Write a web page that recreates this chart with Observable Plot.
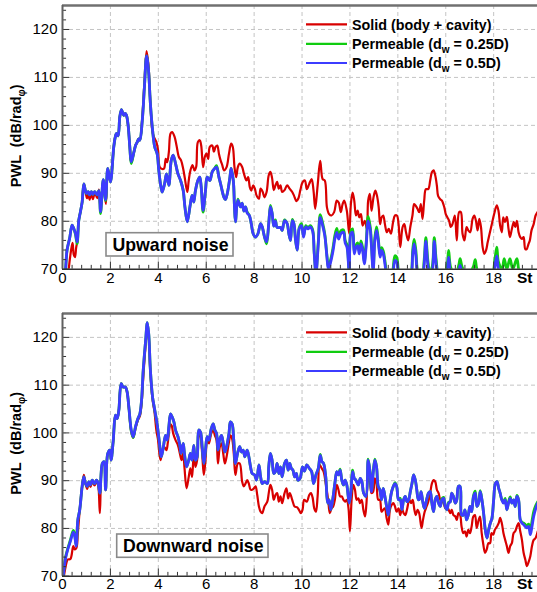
<!DOCTYPE html>
<html><head><meta charset="utf-8">
<script src="https://cdn.jsdelivr.net/npm/d3@7"></script>
<script src="https://cdn.jsdelivr.net/npm/@observablehq/plot@0.6"></script>
<style>
body{margin:0;background:#fff;font-family:"Liberation Sans",Arial,sans-serif;}
#chart svg{display:block;}
</style></head><body><div id="chart"></div>
<script>
// ---- labels / categories ----
const seriesLabels = [
  ["Solid (body + cavity)", null, null],
  ["Permeable (d", "w", " = 0.25D)"],
  ["Permeable (d", "w", " = 0.5D)"]
];
const seriesColors = ["#d80000", "#10cc10", "#3c3cff"];
const panelLabels = ["Upward noise", "Downward noise"];
const xTicks = [0, 2, 4, 6, 8, 10, 12, 14, 16, 18];
const yTicks = [70, 80, 90, 100, 110, 120];

// ---- Upward noise: [St, PWL] ----
const upSolid = [[0,60],[0.2,66],[0.26,70],[0.36,74],[0.42,75.5],[0.47,73],[0.52,72.5],[0.57,74.5],[0.62,76],[0.68,80.2],[0.75,82],[0.82,84],[0.89,87.8],[0.95,86.5],[1.02,84.8],[1.07,86],[1.13,84.5],[1.2,86],[1.27,84.6],[1.35,86],[1.45,84.8],[1.52,86.6],[1.59,82.5],[1.7,88.5],[1.81,83.6],[1.89,91],[2.0,88.2],[2.14,95.5],[2.2,97.5],[2.25,98.3],[2.32,97.8],[2.39,101.7],[2.46,103.3],[2.52,102.5],[2.56,102.1],[2.62,102.5],[2.67,102.1],[2.74,100],[2.81,95.5],[2.87,92.2],[2.98,94.4],[3.05,95.8],[3.12,96.5],[3.18,97.2],[3.23,96.9],[3.33,101.5],[3.42,108.8],[3.51,115.5],[3.59,112.5],[3.67,104.5],[3.76,98.5],[3.85,97.2],[3.92,96.5],[3.99,94.8],[4.06,91.3],[4.16,90.9],[4.24,91],[4.31,93],[4.37,92.3],[4.44,94.4],[4.51,98.3],[4.58,98.6],[4.68,97.6],[4.76,95.8],[4.86,93.4],[4.95,92.7],[5.04,90.9],[5.11,88.9],[5.21,86.1],[5.27,88.5],[5.34,90.6],[5.43,91.7],[5.51,90.6],[5.58,91.3],[5.65,96.5],[5.73,96.9],[5.79,95.8],[5.87,91.3],[5.94,93.4],[6.01,94.1],[6.08,93],[6.15,95.5],[6.25,95.8],[6.32,94.5],[6.39,95.5],[6.46,95.8],[6.53,94.1],[6.6,92.7],[6.67,91.7],[6.74,90.6],[6.85,91.3],[6.95,94.1],[7.04,96.2],[7.11,95.5],[7.18,91.3],[7.25,89.2],[7.32,91.3],[7.4,92],[7.5,91.3],[7.57,90],[7.68,88.5],[7.75,89.2],[7.82,87.1],[7.88,86.4],[7.96,87.5],[8.03,86.8],[8.1,85.4],[8.2,84.7],[8.27,86.8],[8.36,86.1],[8.43,85],[8.52,86.1],[8.61,89.6],[8.68,90.3],[8.75,89],[8.82,86.5],[8.89,87.5],[8.96,88.2],[9.03,86.8],[9.1,87.5],[9.17,86.1],[9.27,86.5],[9.38,87.5],[9.48,86.8],[9.59,86.1],[9.66,85.4],[9.77,84.2],[9.85,84.8],[9.93,86.5],[10.02,88.1],[10.12,88.5],[10.2,86.7],[10.3,87.8],[10.4,88.8],[10.48,86.4],[10.55,82.6],[10.65,87.4],[10.76,92.6],[10.86,88.8],[10.95,88.5],[11.04,82.9],[11.13,81.5],[11.23,81.2],[11.34,81.9],[11.45,84.3],[11.53,83.9],[11.62,81.9],[11.69,83.5],[11.76,84.3],[11.87,82.2],[11.97,77.4],[12.04,83.6],[12.11,86],[12.18,84.3],[12.25,81.2],[12.32,82.2],[12.39,80.8],[12.46,81.5],[12.53,79.1],[12.62,80.1],[12.71,78.4],[12.76,84.3],[12.83,85.7],[12.9,82.2],[12.98,84.9],[13.06,86.4],[13.13,85.3],[13.2,82.9],[13.26,79.4],[13.32,80.8],[13.39,81.2],[13.46,79.4],[13.54,77.7],[13.62,78.4],[13.71,77.4],[13.8,79.8],[13.88,81.2],[13.96,81.2],[14.03,79.4],[14.1,74.6],[14.2,78.8],[14.27,79.4],[14.34,77.7],[14.43,76],[14.52,78.8],[14.61,81.2],[14.68,83.6],[14.75,83.2],[14.82,82.6],[14.89,81.9],[14.96,83.6],[15.03,80.5],[15.1,84.3],[15.17,86.7],[15.27,86.7],[15.35,88.5],[15.42,90.2],[15.49,90.6],[15.56,89.6],[15.63,87.4],[15.68,85.3],[15.77,84.6],[15.84,84.3],[15.94,82.9],[16.0,81.5],[16.07,80.8],[16.14,80.1],[16.21,78.8],[16.28,79.4],[16.38,81.2],[16.46,76],[16.56,81.9],[16.63,81.9],[16.7,77.4],[16.78,76],[16.87,78.8],[16.94,78.1],[17.02,77.7],[17.12,80.5],[17.19,81.2],[17.26,80.1],[17.33,78.1],[17.4,80.5],[17.47,78.8],[17.54,74.6],[17.61,73.2],[17.68,73.9],[17.75,75.6],[17.83,77.4],[17.91,79.1],[18.02,81.5],[18.13,83.3],[18.2,82.2],[18.27,79.1],[18.34,77.7],[18.4,80.8],[18.47,79.8],[18.55,80.9],[18.62,78.4],[18.68,76.7],[18.76,78.4],[18.84,79.8],[18.9,78.8],[18.97,80.1],[19.04,77.7],[19.11,76.7],[19.18,76.3],[19.25,76.7],[19.32,74.2],[19.38,74.2],[19.45,75.2],[19.51,76],[19.58,78.1],[19.67,79.4],[19.75,81.2],[19.83,81.9]];

const upPerm05 = [[0,62],[0.13,70],[0.19,74],[0.3,76.5],[0.4,79.2],[0.47,78.5],[0.54,77.5],[0.61,75.7],[0.68,80.2],[0.75,82],[0.82,84],[0.89,87.8],[0.95,86.5],[1.0,85.8],[1.07,86.2],[1.13,85.5],[1.2,86.2],[1.27,85.6],[1.35,86.2],[1.45,85.5],[1.52,86.4],[1.59,82],[1.7,88.7],[1.8,84.5],[1.89,91],[2.0,88.2],[2.14,95.5],[2.2,97.5],[2.25,98.3],[2.32,97.8],[2.39,101.7],[2.46,103.3],[2.52,102.5],[2.56,102.1],[2.62,102.5],[2.67,102.1],[2.74,100],[2.81,95.5],[2.87,92.4],[2.98,94.4],[3.05,95.8],[3.12,96.5],[3.18,97.2],[3.23,96.9],[3.33,101],[3.42,108],[3.51,114.5],[3.59,111.5],[3.67,104.5],[3.76,99],[3.85,95.5],[3.95,94.1],[4.02,90.6],[4.09,87.8],[4.16,86.1],[4.26,87.8],[4.34,89.9],[4.44,87.5],[4.54,92.7],[4.62,93.8],[4.72,92],[4.82,89.9],[4.93,88.5],[5.04,86.4],[5.11,83],[5.21,79.9],[5.32,83],[5.41,85.4],[5.48,84],[5.55,86.4],[5.65,88.5],[5.73,89.2],[5.79,87.2],[5.87,82.3],[5.97,86.4],[6.04,89.2],[6.15,88.5],[6.25,90.3],[6.35,91],[6.43,91.3],[6.53,89.2],[6.6,87.8],[6.74,85],[6.8,84.5],[6.88,85.8],[6.99,89.2],[7.04,91],[7.13,88.5],[7.18,83],[7.22,79.9],[7.32,84.4],[7.43,83],[7.5,83.8],[7.57,82.1],[7.64,83],[7.71,81.7],[7.8,81.2],[7.88,79.5],[7.96,77.4],[8.06,76.7],[8.16,77.4],[8.27,79.5],[8.34,78.8],[8.43,76.8],[8.52,75.7],[8.61,79.5],[8.68,83],[8.75,81.7],[8.82,79],[8.89,80],[8.96,78.7],[9.1,78.7],[9.17,78.1],[9.27,80.1],[9.38,79.5],[9.45,77.4],[9.52,76],[9.59,80.1],[9.66,79.5],[9.73,76],[9.8,74],[9.88,78.4],[9.98,79.1],[10.06,76.7],[10.16,78.8],[10.25,78.4],[10.34,78.8],[10.44,78],[10.51,73.2],[10.58,69],[10.68,75.3],[10.76,80.8],[10.86,79.1],[10.95,77],[11.04,72.5],[11.1,70],[11.21,71.8],[11.3,74],[11.37,76.3],[11.45,77.7],[11.53,76.3],[11.62,77.4],[11.73,77.7],[11.8,75.5],[11.88,74.5],[11.97,69],[12.04,77.4],[12.11,77.7],[12.18,73.2],[12.25,74.5],[12.32,74.9],[12.39,73.2],[12.46,75.3],[12.53,74],[12.6,71.1],[12.68,75],[12.76,80.1],[12.85,78.1],[12.9,74.6],[12.97,69.5],[13.04,76],[13.11,78.1],[13.18,76],[13.26,72.5],[13.32,73.9],[13.39,73.2],[13.46,71.1],[13.55,68],[13.7,66],[13.8,69],[13.88,71.8],[13.95,71.5],[14.05,68],[14.3,65],[14.55,68],[14.62,73],[14.68,75.3],[14.75,73],[14.85,68],[15.0,67],[15.1,71],[15.17,75.8],[15.25,71],[15.35,68],[15.45,70],[15.52,75.8],[15.6,71],[15.7,68],[15.9,67],[16.05,69],[16.12,72.5],[16.2,69],[16.4,66],[16.55,69.5],[16.6,70.8],[16.68,69],[16.9,66],[17.15,68.5],[17.23,69.8],[17.3,68],[17.6,65],[17.95,67],[18.05,70.5],[18.13,72.8],[18.2,70],[18.35,68.5],[18.44,69.5],[18.55,68.5],[18.68,69.5],[18.8,68.5],[18.97,69.5],[19.1,67],[19.5,66],[19.83,65]];

const upPerm025 = [[0,62],[0.13,70],[0.19,74],[0.3,76.5],[0.4,79.2],[0.47,78.5],[0.54,77.3],[0.61,75.3],[0.68,80.2],[0.75,82],[0.82,84],[0.89,87.8],[0.95,86.5],[1.0,85.8],[1.07,86.2],[1.13,85.5],[1.2,86.2],[1.27,85.6],[1.35,86.2],[1.45,85.5],[1.52,86.4],[1.59,81.6],[1.7,88.7],[1.8,84.3],[1.89,91],[2.0,88.2],[2.14,95.5],[2.2,97.5],[2.25,98.3],[2.32,97.8],[2.39,101.7],[2.46,103.3],[2.52,102.5],[2.56,102.1],[2.62,102.5],[2.67,102.1],[2.74,100],[2.81,95.5],[2.87,92],[2.98,94.4],[3.05,95.8],[3.12,96.5],[3.18,97.2],[3.23,96.9],[3.33,101],[3.42,108],[3.51,114.5],[3.59,111.5],[3.67,104.5],[3.76,99],[3.85,95.5],[3.95,94.1],[4.02,90.6],[4.09,87.8],[4.16,86.1],[4.26,87.8],[4.34,89.9],[4.44,87.5],[4.54,92.7],[4.62,93.8],[4.72,92],[4.82,89.9],[4.93,88.5],[5.04,86.4],[5.11,83],[5.21,79.9],[5.32,83],[5.41,85.4],[5.48,84],[5.55,86.4],[5.65,88.5],[5.73,89.2],[5.79,87.2],[5.87,81.9],[5.97,86.4],[6.04,89.2],[6.15,88.5],[6.25,90.3],[6.35,91],[6.43,91.6],[6.53,89.2],[6.6,87.8],[6.74,85],[6.8,84.5],[6.88,85.8],[6.99,89.2],[7.04,91],[7.13,88.5],[7.18,83],[7.22,79.9],[7.32,84.6],[7.43,83],[7.5,83.8],[7.57,82.1],[7.64,83],[7.71,81.9],[7.8,81.2],[7.88,79.5],[7.96,77.4],[8.06,76.7],[8.16,77.4],[8.27,79.5],[8.34,78.8],[8.43,76.8],[8.52,75.3],[8.61,79.5],[8.68,83.3],[8.75,81.7],[8.82,79],[8.89,80.3],[8.96,78.7],[9.1,78.7],[9.17,78.1],[9.27,80.3],[9.38,79.5],[9.45,77.4],[9.52,76],[9.59,80.4],[9.66,79.5],[9.73,76],[9.8,74],[9.88,78.6],[9.98,79.5],[10.06,76.9],[10.16,79.1],[10.25,78.6],[10.34,79.1],[10.44,78.3],[10.51,73.4],[10.58,69.3],[10.68,75.8],[10.76,81.4],[10.86,79.6],[10.95,77.3],[11.04,72.8],[11.1,70.4],[11.21,72.3],[11.3,74.7],[11.37,77],[11.45,78.5],[11.53,76.8],[11.62,78],[11.73,78.2],[11.8,76],[11.88,75],[11.97,69.3],[12.04,78],[12.11,78.4],[12.18,73.7],[12.25,75],[12.32,75.5],[12.39,73.7],[12.46,75.9],[12.53,74.5],[12.6,71.6],[12.68,75.7],[12.76,81],[12.85,78.7],[12.9,75.1],[12.97,70],[13.04,76.6],[13.11,78.8],[13.18,76.5],[13.26,73],[13.32,74.5],[13.39,73.8],[13.46,71.8],[13.55,68.5],[13.7,66.5],[13.8,70],[13.88,72.8],[13.95,72.5],[14.05,69],[14.3,66],[14.55,69],[14.62,74],[14.68,76.2],[14.75,74],[14.85,69],[15.0,68],[15.1,72],[15.17,76.6],[15.25,72],[15.35,69],[15.45,71],[15.52,76.6],[15.6,72],[15.7,69],[15.9,68.5],[16.05,70.5],[16.12,73.9],[16.2,70.5],[16.4,68.5],[16.55,71],[16.6,72.2],[16.68,70.5],[16.9,68.5],[17.15,70.5],[17.23,72],[17.3,70],[17.6,67],[17.95,69],[18.05,72],[18.13,74.6],[18.2,71.5],[18.35,70],[18.44,72.2],[18.55,70],[18.68,72.2],[18.8,70],[18.97,72.2],[19.1,69],[19.5,67.5],[19.83,66]];

// ---- Downward noise: [St, PWL] ----
const downSolid = [[0,68],[0.06,70],[0.13,72],[0.22,73.5],[0.33,73.6],[0.45,76.3],[0.51,75.6],[0.58,75.9],[0.64,79],[0.72,83.9],[0.82,88.8],[0.89,91.2],[0.96,89.4],[1.03,88.3],[1.1,89.5],[1.17,88.7],[1.24,89.8],[1.34,89],[1.42,89.8],[1.49,89],[1.56,83.2],[1.66,93.4],[1.73,93.8],[1.8,88],[1.89,95.5],[1.98,96.2],[2.03,94.3],[2.12,98.5],[2.21,103.7],[2.28,103],[2.35,104.5],[2.45,110.3],[2.53,109.6],[2.63,109.6],[2.7,108.5],[2.77,105.2],[2.87,100.3],[2.95,99],[3.05,101],[3.15,102.7],[3.23,103.5],[3.3,106],[3.37,111.5],[3.47,118.5],[3.54,122.5],[3.6,120],[3.67,112.5],[3.76,107],[3.84,104.4],[3.92,100.5],[3.98,98.8],[4.09,94.3],[4.16,96],[4.26,97],[4.34,96.4],[4.4,98.1],[4.51,101.8],[4.56,101.5],[4.62,99.9],[4.72,98.5],[4.82,97.4],[4.9,95.7],[4.97,94.3],[5.04,95.7],[5.09,92.9],[5.18,88.4],[5.27,90.8],[5.34,92.6],[5.41,90.8],[5.48,95.7],[5.55,92.9],[5.62,94.3],[5.69,99.9],[5.76,99.2],[5.83,95.7],[5.9,91.2],[5.97,94.3],[6.04,98.5],[6.11,97.8],[6.21,99.9],[6.29,100.6],[6.36,99.5],[6.43,98.5],[6.49,93.6],[6.57,97.1],[6.64,97.8],[6.71,95.7],[6.78,93.6],[6.85,95],[6.95,98.1],[7.01,99.5],[7.08,98.8],[7.15,95.7],[7.22,91.2],[7.32,93.6],[7.4,93.6],[7.5,89.8],[7.57,88.8],[7.64,89.4],[7.71,90.1],[7.78,89.4],[7.85,88.1],[7.92,88.1],[7.99,88.4],[8.06,88.8],[8.13,87],[8.2,84.6],[8.27,83.5],[8.34,83.2],[8.43,84.6],[8.55,85.6],[8.61,87.4],[8.68,89.1],[8.75,88.1],[8.82,86],[8.89,87],[8.96,87.4],[9.03,85.6],[9.1,86.7],[9.17,85.3],[9.27,87.4],[9.35,88.4],[9.42,86.3],[9.49,87.4],[9.59,86],[9.69,84.6],[9.8,84.4],[9.88,83.8],[9.95,83.2],[10.02,83.9],[10.09,86],[10.2,85.6],[10.3,87],[10.37,87.4],[10.44,86.5],[10.51,84.2],[10.58,83.5],[10.65,86.7],[10.74,93.3],[10.82,92.6],[10.9,91.9],[10.99,89.4],[11.09,86],[11.16,83.2],[11.23,84.2],[11.3,84.6],[11.37,86],[11.45,89.1],[11.52,88.1],[11.59,86.7],[11.66,86.7],[11.73,86],[11.8,85.6],[11.87,86],[11.94,84.2],[12.0,79.4],[12.07,86],[12.14,89.1],[12.21,88.1],[12.28,86],[12.35,86.3],[12.42,85.3],[12.49,86],[12.56,83.9],[12.63,82.5],[12.69,85.3],[12.76,90.5],[12.83,89.8],[12.9,87.4],[12.97,87.7],[13.04,90.5],[13.11,89.4],[13.18,86],[13.25,86],[13.32,83.5],[13.39,83.9],[13.46,84.2],[13.53,82.2],[13.6,80.8],[13.67,83.9],[13.74,84.9],[13.81,85.3],[13.88,84.6],[13.95,83.5],[14.03,84.2],[14.1,82.8],[14.17,84.2],[14.24,83.2],[14.31,82.8],[14.38,83.9],[14.48,86],[14.55,85.3],[14.62,86],[14.69,83.9],[14.75,82.8],[14.82,83.9],[14.89,83.2],[14.99,80.1],[15.05,81.8],[15.12,83.5],[15.2,84.6],[15.27,85.6],[15.35,87.4],[15.42,89.4],[15.49,90.1],[15.56,89.8],[15.63,88.1],[15.7,87.4],[15.77,86],[15.84,85.6],[15.91,85.3],[15.98,84.2],[16.05,84.6],[16.12,83.9],[16.19,83.2],[16.25,83.9],[16.32,82.8],[16.4,82.5],[16.46,81.8],[16.53,83.2],[16.6,82.8],[16.66,80.4],[16.73,79],[16.8,79.4],[16.87,78.3],[16.94,79.7],[17.01,79],[17.08,80.4],[17.15,82.5],[17.22,82.8],[17.29,80.1],[17.36,81.5],[17.43,82.5],[17.5,79],[17.56,76.9],[17.64,74.9],[17.71,75.6],[17.78,76.9],[17.85,76.9],[17.91,79],[17.98,78.7],[18.05,79.7],[18.14,80.4],[18.21,81.1],[18.27,82.2],[18.34,81.1],[18.41,79],[18.48,77.6],[18.55,76.3],[18.62,74.9],[18.69,76.3],[18.76,76.9],[18.83,79],[18.9,79.4],[18.97,80.4],[19.04,81.1],[19.11,79.4],[19.18,77.6],[19.25,74.9],[19.32,73.5],[19.39,72.1],[19.46,73],[19.53,74.2],[19.6,76.3],[19.67,77.6],[19.74,77.9],[19.84,79.4]];

const downPerm05 = [[0,67],[0.03,70],[0.13,73.8],[0.22,75.6],[0.33,77.3],[0.45,79.2],[0.5,78.7],[0.57,76.3],[0.64,81.8],[0.72,83.9],[0.82,88.8],[0.89,90.8],[0.96,89.4],[1.03,88.8],[1.1,89.8],[1.17,89.1],[1.24,90.1],[1.34,89.4],[1.42,90.1],[1.49,89.4],[1.56,87.4],[1.66,93.6],[1.73,94],[1.8,88.1],[1.89,95.7],[1.98,96.4],[2.03,94.3],[2.12,98.5],[2.21,103.7],[2.28,103],[2.35,104.7],[2.45,110.3],[2.53,109.6],[2.63,109.6],[2.7,108.5],[2.77,105.4],[2.87,100.6],[2.95,99.2],[3.05,101.3],[3.15,103],[3.23,104],[3.3,106.8],[3.37,113.1],[3.47,119.3],[3.54,123.1],[3.6,120.7],[3.67,113.1],[3.76,107.5],[3.84,105.1],[3.95,101.9],[4.05,97.8],[4.12,95],[4.2,96.7],[4.3,99.5],[4.37,98.5],[4.44,101.3],[4.51,104],[4.58,103.3],[4.65,102.3],[4.72,100.6],[4.82,99.2],[4.9,97.4],[4.95,95.7],[5.04,97.8],[5.09,95.7],[5.18,92.9],[5.27,94.3],[5.34,95.7],[5.41,94.3],[5.48,97.4],[5.55,94.3],[5.62,95],[5.69,100.6],[5.76,100.2],[5.83,97.1],[5.9,93.6],[5.97,96.4],[6.04,99.2],[6.11,98.5],[6.21,100.9],[6.29,101.9],[6.36,100.6],[6.43,99.9],[6.49,96.4],[6.57,98.8],[6.64,99.5],[6.71,97.8],[6.78,96],[6.85,97.1],[6.95,99.9],[7.01,102.3],[7.08,101.9],[7.15,98.5],[7.22,93.6],[7.32,96],[7.4,97.1],[7.47,96],[7.54,96.4],[7.61,95],[7.71,96.4],[7.78,95],[7.85,92.9],[7.92,91.5],[8.02,91.2],[8.1,90.1],[8.2,93.3],[8.27,90.8],[8.34,89.4],[8.43,89.8],[8.55,89.4],[8.61,92.9],[8.68,95.7],[8.75,94.3],[8.82,91.5],[8.89,91.9],[8.96,93.6],[9.03,91.5],[9.1,92.9],[9.17,90.8],[9.27,93.6],[9.35,94.3],[9.42,92.2],[9.49,93.6],[9.55,92.6],[9.62,92.2],[9.69,90.8],[9.76,91.5],[9.83,90.1],[9.92,90.5],[10.02,92.9],[10.1,92],[10.2,93.3],[10.3,92.6],[10.4,91.9],[10.48,89.4],[10.58,91.2],[10.68,92.6],[10.76,95.3],[10.83,94],[10.9,93.6],[10.99,90.8],[11.07,85.3],[11.13,86],[11.2,83.9],[11.28,86],[11.37,89.4],[11.45,91.9],[11.52,91.2],[11.59,92.2],[11.66,90.1],[11.73,89.1],[11.8,90.1],[11.87,89.1],[11.97,85.3],[12.04,87.7],[12.11,91.9],[12.18,90.5],[12.25,90.1],[12.35,89.1],[12.43,90.5],[12.5,89.8],[12.57,87.4],[12.67,86.7],[12.76,94.3],[12.83,92.2],[12.9,87.7],[12.97,91.5],[13.04,94.3],[13.11,92.9],[13.18,88.8],[13.25,88.1],[13.32,86],[13.39,88.4],[13.46,86.7],[13.53,84.6],[13.6,82.8],[13.67,85.6],[13.74,87.7],[13.81,88.8],[13.88,89.4],[13.95,88.8],[14.03,86],[14.1,86],[14.17,83.9],[14.24,86],[14.31,86.7],[14.38,85.6],[14.45,86],[14.52,87.7],[14.59,89.4],[14.66,91.2],[14.73,90.1],[14.79,88.1],[14.86,86],[14.92,86.3],[14.97,87.7],[15.04,85.6],[15.11,84.2],[15.2,86],[15.28,87.4],[15.35,87.7],[15.42,85.3],[15.49,83.5],[15.56,86],[15.63,86.7],[15.7,85.3],[15.77,84.6],[15.84,86],[15.91,86.3],[15.98,84.6],[16.05,83.9],[16.12,85.3],[16.19,85.6],[16.25,87.4],[16.32,86.7],[16.4,85.3],[16.46,86],[16.53,88.8],[16.6,88.8],[16.66,82.8],[16.73,82.8],[16.8,83.9],[16.87,81.8],[16.94,82.8],[17.01,84.6],[17.08,83.5],[17.16,86.7],[17.23,87.4],[17.3,84.6],[17.37,85.3],[17.44,87.7],[17.51,86],[17.58,83.2],[17.65,79.7],[17.72,78],[17.79,79.7],[17.86,81.1],[17.93,82.2],[18.0,86],[18.07,89.4],[18.14,89.8],[18.21,88.4],[18.27,87.4],[18.34,86],[18.41,85.3],[18.48,86],[18.55,83.9],[18.62,85.3],[18.69,86.3],[18.76,85.3],[18.83,86],[18.9,84.6],[18.97,86.7],[19.04,86],[19.11,81.8],[19.18,81.1],[19.25,80.8],[19.32,80.4],[19.39,80.1],[19.46,80.4],[19.53,78.7],[19.6,80.4],[19.67,82.5],[19.74,83.9],[19.84,85.3]];

const downPerm025 = [[0,67],[0.03,70],[0.13,74],[0.22,75.8],[0.33,77.6],[0.45,79.6],[0.5,79],[0.57,76.5],[0.64,81.8],[0.72,83.9],[0.82,88.8],[0.89,90.8],[0.96,89.4],[1.03,88.8],[1.1,89.8],[1.17,89.1],[1.24,90.1],[1.34,89.4],[1.42,90.1],[1.49,89.4],[1.56,87.4],[1.66,93.6],[1.73,94],[1.8,88.1],[1.89,95.7],[1.98,96.4],[2.03,94.3],[2.12,98.5],[2.21,103.7],[2.28,103],[2.35,104.7],[2.45,110.3],[2.53,109.6],[2.63,109.6],[2.7,108.5],[2.77,105.4],[2.87,100.4],[2.95,99],[3.05,101.3],[3.15,103],[3.23,104],[3.3,106.8],[3.37,113.1],[3.47,119.3],[3.54,123.1],[3.6,120.7],[3.67,113.1],[3.76,107.5],[3.84,105.1],[3.95,101.9],[4.05,97.8],[4.12,95],[4.2,96.7],[4.3,99.5],[4.37,98.5],[4.44,101.3],[4.51,104],[4.58,103.3],[4.65,102.3],[4.72,100.6],[4.82,99.2],[4.9,97.4],[4.95,95.7],[5.04,97.8],[5.09,95.7],[5.18,92.9],[5.27,94.3],[5.34,95.7],[5.41,94.3],[5.48,97.4],[5.55,94.3],[5.62,95],[5.69,100.6],[5.76,100.2],[5.83,97.1],[5.9,93.6],[5.97,96.4],[6.04,99.2],[6.11,98.5],[6.21,100.9],[6.29,101.9],[6.36,100.6],[6.43,99.9],[6.49,96.4],[6.57,98.8],[6.64,99.5],[6.71,97.8],[6.78,96],[6.85,97.1],[6.95,99.9],[7.01,102.3],[7.08,101.9],[7.15,98.5],[7.22,93.6],[7.32,96],[7.4,97.1],[7.47,96],[7.54,96.4],[7.61,95],[7.71,96.4],[7.78,95],[7.85,92.9],[7.92,91.5],[8.02,91.2],[8.1,90.1],[8.2,93.3],[8.27,90.8],[8.34,89.4],[8.43,89.8],[8.55,89.4],[8.61,92.9],[8.68,95.7],[8.75,94.3],[8.82,91.5],[8.89,91.9],[8.96,93.6],[9.03,91.5],[9.1,92.9],[9.17,90.8],[9.27,93.6],[9.35,94.3],[9.42,92.2],[9.49,93.6],[9.55,92.6],[9.62,92.2],[9.69,90.8],[9.76,91.5],[9.83,90.1],[9.92,90.5],[10.02,92.9],[10.1,92],[10.2,93.3],[10.3,92.6],[10.4,91.9],[10.48,89.4],[10.58,91.2],[10.68,92.6],[10.76,95.5],[10.83,94],[10.9,93.6],[10.99,90.8],[11.07,85.3],[11.13,86],[11.2,83.9],[11.28,86],[11.37,89.4],[11.45,91.9],[11.52,91.2],[11.59,92.4],[11.66,90.1],[11.73,89.1],[11.8,90.1],[11.87,89.1],[11.97,85.3],[12.04,87.7],[12.11,92.2],[12.18,90.5],[12.25,90.1],[12.35,89.1],[12.43,90.5],[12.5,89.8],[12.57,87.4],[12.67,86.7],[12.76,94.5],[12.83,92.2],[12.9,88],[12.97,91.8],[13.04,94.5],[13.11,92.9],[13.18,88.8],[13.25,88.1],[13.32,86],[13.39,88.4],[13.46,86.7],[13.53,84.6],[13.6,82.8],[13.67,85.6],[13.74,87.7],[13.81,88.8],[13.88,89.6],[13.95,88.8],[14.03,86],[14.1,86.3],[14.17,83.9],[14.24,86],[14.31,86.7],[14.38,85.6],[14.45,86],[14.52,87.7],[14.59,89.4],[14.66,91.2],[14.73,90.1],[14.79,88.1],[14.86,86],[14.92,86.3],[14.97,87.7],[15.04,85.6],[15.11,84.2],[15.2,86],[15.28,87.4],[15.35,87.7],[15.42,85.3],[15.49,83.5],[15.56,86],[15.63,86.7],[15.7,85.3],[15.77,84.6],[15.84,86.2],[15.91,86.5],[15.98,84.6],[16.05,83.9],[16.12,85.5],[16.19,85.6],[16.25,87.4],[16.32,86.7],[16.4,85.3],[16.46,86],[16.53,88.8],[16.6,88.8],[16.66,82.8],[16.73,82.8],[16.8,83.9],[16.87,81.8],[16.94,82.8],[17.01,84.6],[17.08,83.5],[17.16,86.9],[17.23,87.8],[17.3,84.6],[17.37,85.3],[17.44,87.9],[17.51,86],[17.58,83.2],[17.65,79.7],[17.72,78],[17.79,79.7],[17.86,81.1],[17.93,82.2],[18.0,86],[18.07,89.4],[18.14,89.8],[18.21,88.4],[18.27,87.4],[18.34,86],[18.41,85.5],[18.48,86.3],[18.55,83.9],[18.62,85.5],[18.69,86.6],[18.76,85.3],[18.83,86],[18.9,84.6],[18.97,86.9],[19.04,86],[19.11,81.8],[19.18,81.3],[19.25,81.1],[19.32,80.8],[19.39,80.6],[19.46,80.9],[19.53,79.4],[19.6,81.5],[19.67,83.5],[19.74,84.6],[19.84,85.6]];

const panels = [
  {series: [upSolid, upPerm025, upPerm05], label: panelLabels[0], height: 296, marginTop: 5, marginBottom: 27.3, pad: 3.4,
   box: {x: 106, y: 232.7, w: 127, h: 23.3, tx: 112.5, ty: 251.2}},
  {series: [downSolid, downPerm025, downPerm05], label: panelLabels[1], height: 296, marginTop: 17, marginBottom: 16.3, pad: 2.2,
   box: {x: 116.7, y: 238, w: 151.3, h: 23.3, tx: 123, ty: 255.5}}
];

const FONT = "'Liberation Sans', Arial, sans-serif";
const xMinor = d3.range(0, 19.81, 0.4).filter(v => Math.abs(v / 2 - Math.round(v / 2)) > 1e-6);
const yMinor = d3.range(70, 125.01, 2).filter(v => v % 10 !== 0);
const widths = [2.2, 2.8, 2.8];

const root = document.getElementById("chart");
for (const p of panels) {
  const marks = [
    Plot.ruleX(xTicks.slice(1), {stroke: "#c4c4c4", strokeWidth: 1, strokeDasharray: "4,3"}),
    Plot.ruleY(yTicks.slice(1), {stroke: "#c4c4c4", strokeWidth: 1, strokeDasharray: "4,3"}),
  ];
  p.series.forEach((s, i) => {
    marks.push(Plot.line(s, {x: d => d[0], y: d => d[1], stroke: seriesColors[i], strokeWidth: widths[i],
      curve: "catmull-rom", clip: true, strokeLinejoin: "round"}));
  });
  marks.push(
    Plot.ruleX(xMinor, {y1: 70, y2: 70.8, stroke: "#333", strokeWidth: 1}),
    Plot.ruleX(xTicks, {y1: 70, y2: 71.5, stroke: "#333", strokeWidth: 1}),
    Plot.ruleY(yMinor, {x1: 0, x2: 0.17, stroke: "#333", strokeWidth: 1}),
    Plot.ruleY(yTicks, {x1: 0, x2: 0.3, stroke: "#333", strokeWidth: 1}),
    Plot.ruleY([125], {stroke: "#707070", strokeWidth: 2.5}),
    Plot.ruleX([0], {stroke: "#606060", strokeWidth: 2}),
    Plot.ruleY([70], {stroke: "#303030", strokeWidth: 1.6}),
    Plot.text(["St"], {frameAnchor: "bottom-right", dx: -5, dy: p.pad + 5.6, textAnchor: "end", lineAnchor: "middle",
      fontWeight: "bold", fontSize: 15.5, fill: "#000"})
  );
  const plot = Plot.plot({
    width: 537, height: p.height, marginTop: p.marginTop, marginBottom: p.marginBottom, marginLeft: 62, marginRight: 0,
    style: {fontFamily: FONT, fontSize: "15px", color: "#000", background: "#fff", overflow: "visible"},
    x: {domain: [0, 19.83], ticks: xTicks, tickSize: 0, tickPadding: p.pad, label: null},
    y: {domain: [70, 125], ticks: yTicks, tickSize: 0, tickPadding: 5, label: null},
    marks
  });
  const svg = d3.select(plot);
  const top = p.marginTop, bottom = p.height - p.marginBottom;
  // y-axis title
  const yt = svg.append("text")
    .attr("transform", `translate(21,${(top + bottom) / 2 - 1}) rotate(-90)`)
    .attr("text-anchor", "middle").attr("font-family", FONT).attr("font-weight", "bold")
    .attr("font-size", 14.5).attr("fill", "#000");
  yt.append("tspan").text("PWL  (dB/rad");
  yt.append("tspan").attr("dy", 4).attr("font-size", 10).text("φ");
  yt.append("tspan").attr("dy", -4).text(")");
  // legend
  const rows = [19.3, 38.9, 58];
  seriesLabels.forEach((lab, i) => {
    const ly = top + rows[i];
    svg.append("line").attr("x1", 306).attr("x2", 347).attr("y1", ly).attr("y2", ly)
      .attr("stroke", seriesColors[i]).attr("stroke-width", 2.2);
    const t = svg.append("text").attr("x", 352).attr("y", ly + 5.3).attr("font-family", FONT)
      .attr("text-anchor", "start")
      .attr("font-weight", "bold").attr("font-size", 14.3).attr("fill", "#000");
    t.append("tspan").text(lab[0]);
    if (lab[1]) {
      t.append("tspan").attr("dy", 4).attr("font-size", 10).text(lab[1]);
      t.append("tspan").attr("dy", -4).text(lab[2]);
    }
  });
  // panel label box
  svg.append("rect").attr("x", p.box.x).attr("y", p.box.y).attr("width", p.box.w).attr("height", p.box.h)
    .attr("fill", "#fff").attr("stroke", "#8a8a8a").attr("stroke-width", 1.6);
  svg.append("text").attr("x", p.box.tx).attr("y", p.box.ty).attr("font-family", FONT)
    .attr("text-anchor", "start")
    .attr("font-weight", "bold").attr("font-size", 17.7).attr("fill", "#000").text(p.label);
  root.appendChild(plot);
}
</script></body></html>
